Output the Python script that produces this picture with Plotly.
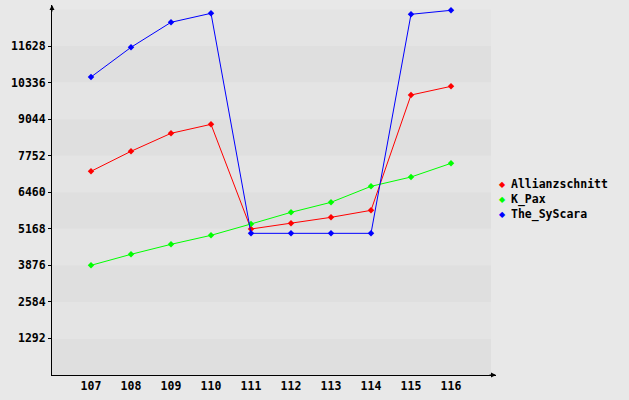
import plotly.graph_objects as go

categories = [107, 108, 109, 110, 111, 112, 113, 114, 115, 116]
allianzschnitt = [7200, 7907, 8543, 8861, 5161, 5361, 5573, 5821, 9897, 10204]
k_pax = [3877, 4266, 4619, 4937, 5338, 5750, 6104, 6669, 6999, 7482]
the_syscara = [10533, 11583, 12467, 12785, 5008, 5008, 5008, 5008, 12750, 12891]
y_step = 1292
y_ticks = [y_step * k for k in range(1, 10)]

series = [
    ("Allianzschnitt", allianzschnitt, "#ff0000"),
    ("K_Pax", k_pax, "#00ff00"),
    ("The_SyScara", the_syscara, "#0000ff"),
]

FONT = dict(family="DejaVu Sans Mono", size=11.5, color="#000000", weight="bold")

# plot area in pixels
L, R, T, B = 52, 496, 5, 375
W, H = 629, 400
def px_x(p):
    return (p - L) / (R - L)
def px_y(p):
    return (B - p) / (B - T)

fig = go.Figure()
for name, vals, col in series:
    fig.add_trace(go.Scatter(
        x=categories, y=vals, name=name, mode="lines+markers",
        line=dict(color=col, width=1),
        marker=dict(symbol="diamond", size=5, color=col),
        showlegend=False,
    ))

x_lo, x_hi = 106.025, 117.125
band_right = 117.0
y_top = 13079
shapes = []
for k in range(10):
    shapes.append(dict(
        type="rect", xref="x", yref="y", x0=x_lo, x1=band_right,
        y0=k * y_step, y1=(k + 1) * y_step, layer="below", line=dict(width=0),
        fillcolor="#dfdfdf" if k % 2 == 0 else "#e4e4e4",
    ))

annotations = [
    dict(xref="paper", yref="paper", x=0, y=1, axref="pixel", ayref="pixel",
         ax=0, ay=8, text="", showarrow=True, arrowhead=2, arrowsize=1,
         arrowwidth=1, arrowcolor="#000000"),
    dict(xref="paper", yref="paper", x=1, y=0, axref="pixel", ayref="pixel",
         ax=-8, ay=0, text="", showarrow=True, arrowhead=2, arrowsize=1,
         arrowwidth=1, arrowcolor="#000000"),
]

# legend (drawn as text)
legend_rows = [184, 199, 214]
for (name, vals, col), ry in zip(series, legend_rows):
    annotations.append(dict(
        xref="paper", yref="paper", x=px_x(502), y=px_y(ry),
        xanchor="center", yanchor="middle", showarrow=False,
        text="◆", font=dict(family="DejaVu Sans", size=8, color=col),
    ))
    annotations.append(dict(
        xref="paper", yref="paper", x=px_x(509), y=px_y(ry),
        xanchor="left", yanchor="middle", showarrow=False,
        text=name, font=FONT,
    ))

fig.update_layout(
    width=W, height=H,
    margin=dict(l=L, r=W - R, t=T, b=H - B, autoexpand=False),
    paper_bgcolor="#e8e8e8", plot_bgcolor="#e8e8e8",
    font=FONT,
    shapes=shapes, annotations=annotations,
    showlegend=False,
    hovermode=False,
    xaxis=dict(range=[x_lo, x_hi], tickvals=categories,
               ticktext=[str(c) for c in categories], automargin=False,
               showgrid=False, zeroline=False, showline=True,
               linecolor="#000000", linewidth=1, ticks="",
               tickfont=FONT),
    yaxis=dict(range=[0, y_top], tickvals=y_ticks,
               ticktext=[str(v) for v in y_ticks], automargin=False,
               showgrid=False, zeroline=False, showline=True,
               linecolor="#000000", linewidth=1, ticks="outside", ticklen=3,
               tickcolor="#000000",
               tickfont=FONT),
)

fig.write_html(
    "out.html",
    config={"displayModeBar": False, "staticPlot": True},
    post_script="document.body.style.margin='0';document.body.style.background='#e8e8e8';",
)
